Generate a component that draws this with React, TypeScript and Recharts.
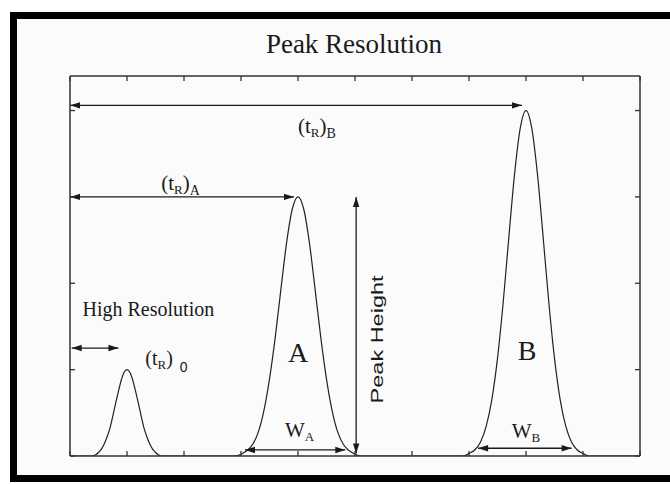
import { ComposedChart, Line, XAxis, YAxis, ReferenceLine, ReferenceDot } from 'recharts';

// detector trace: [time, signal]
const peakO = [
  [0.4, 0], [0.45, 0.015], [0.5, 0.04], [0.55, 0.08], [0.6, 0.14], [0.65, 0.22], [0.7, 0.32],
  [0.75, 0.46], [0.8, 0.61], [0.85, 0.75], [0.9, 0.88], [0.95, 0.97], [1.0, 1.0],
  [1.05, 0.97], [1.1, 0.88], [1.15, 0.75], [1.2, 0.61], [1.25, 0.46], [1.3, 0.32],
  [1.35, 0.22], [1.4, 0.14], [1.45, 0.08], [1.5, 0.04], [1.55, 0.015], [1.6, 0],
];
const peakA = [
  [2.9, 0], [3.0, 0.02], [3.1, 0.06], [3.2, 0.13], [3.3, 0.27], [3.4, 0.52], [3.5, 0.89],
  [3.6, 1.37], [3.7, 1.93], [3.8, 2.47], [3.9, 2.86], [4.0, 3.0], [4.1, 2.86], [4.2, 2.47],
  [4.3, 1.93], [4.4, 1.37], [4.5, 0.89], [4.6, 0.52], [4.7, 0.27], [4.8, 0.13], [4.9, 0.06],
  [5.0, 0.02], [5.1, 0],
];
const peakB = [
  [6.9, 0], [7.0, 0.03], [7.1, 0.07], [7.2, 0.16], [7.3, 0.34], [7.4, 0.65], [7.5, 1.13],
  [7.6, 1.78], [7.7, 2.54], [7.8, 3.27], [7.9, 3.8], [8.0, 4.0], [8.1, 3.8], [8.2, 3.27],
  [8.3, 2.54], [8.4, 1.78], [8.5, 1.13], [8.6, 0.65], [8.7, 0.34], [8.8, 0.16], [8.9, 0.07],
  [9.0, 0.03], [9.1, 0],
];
const xTicks = [0, 1, 2, 3, 4, 5, 6, 7, 8, 9, 10];
const yTicks = [0, 1, 2, 3, 4];

// double-headed dimension arrows, in data units
const arrows = [
  { id: 'tRB', from: [0, 4.06], to: [7.93, 4.06] },
  { id: 'tRA', from: [0, 3.0], to: [3.93, 3.0] },
  { id: 'tR0', from: [0.03, 1.25], to: [0.85, 1.25] },
  { id: 'height', from: [5.02, 0.03], to: [5.02, 3.0] },
  { id: 'wA', from: [3.07, 0.07], to: [4.83, 0.07] },
  { id: 'wB', from: [7.16, 0.09], to: [8.8, 0.09] },
];

// text labels
const labels = [
  { id: 'tRB', at: [4.0, 3.74], kind: 'tR', sub: 'B' },
  { id: 'tRA', at: [1.6, 3.08], kind: 'tR', sub: 'A' },
  { id: 'tR0', at: [1.32, 1.05], kind: 'tR0', sub: '0' },
  { id: 'hires', at: [0.22, 1.62], kind: 'plain', text: 'High Resolution' },
  { id: 'A', at: [4.0, 1.09], kind: 'big', text: 'A' },
  { id: 'B', at: [8.02, 1.11], kind: 'big', text: 'B' },
  { id: 'wA', at: [3.77, 0.22], kind: 'w', sub: 'A' },
  { id: 'wB', at: [7.75, 0.21], kind: 'w', sub: 'B' },
  { id: 'ph', at: [5.39, 1.35], kind: 'rot', text: 'Peak Height' },
];

const trace = [[0, 0], ...peakO, ...peakA, ...peakB, [10, 0]].map(([x, y]) => ({ x, y }));

const ink = '#1a1a1a';
const serif = '"Liberation Serif", "Times New Roman", serif';
const sans = '"Liberation Sans", Arial, sans-serif';

function head(x: number, y: number, ang: number) {
  const L = 10, W = 3.2;
  const bx = x - L * Math.cos(ang), by = y - L * Math.sin(ang);
  const nx = -Math.sin(ang), ny = Math.cos(ang);
  return `${x},${y} ${bx + W * nx},${by + W * ny} ${bx - W * nx},${by - W * ny}`;
}

const ArrowShape = (p: any) => {
  const { x1, y1, x2, y2 } = p;
  const ang = Math.atan2(y2 - y1, x2 - x1);
  return (
    <g>
      <line x1={x1} y1={y1} x2={x2} y2={y2} stroke={ink} strokeWidth={1.3} />
      <polygon points={head(x2, y2, ang)} fill={ink} />
      <polygon points={head(x1, y1, ang + Math.PI)} fill={ink} />
    </g>
  );
};

const makeLabel = (l: any) => (p: any) => {
  const { cx, cy } = p;
  if (l.kind === 'tR') {
    return (
      <text x={cx} y={cy} fontFamily={serif} fontSize={21} fill={ink}>
        (t<tspan fontSize={13} dy={4}>R</tspan><tspan dy={-4}>)</tspan>
        <tspan fontSize={14} dy={5}>{l.sub}</tspan>
      </text>
    );
  }
  if (l.kind === 'tR0') {
    return (
      <text x={cx} y={cy} fontFamily={serif} fontSize={20} fill={ink}>
        (t<tspan fontSize={13} dy={4}>R</tspan><tspan dy={-4}>)</tspan>
        <tspan fontSize={14} dx={7} dy={7} fontFamily={sans}>{l.sub}</tspan>
      </text>
    );
  }
  if (l.kind === 'w') {
    return (
      <text x={cx} y={cy} fontFamily={serif} fontSize={21} fill={ink}>
        W<tspan fontSize={13} dy={4}>{l.sub}</tspan>
      </text>
    );
  }
  if (l.kind === 'big') {
    return (
      <text x={cx} y={cy} fontFamily={serif} fontSize={28} fill={ink} textAnchor="middle">
        {l.text}
      </text>
    );
  }
  if (l.kind === 'rot') {
    return (
      <text
        x={cx}
        y={cy}
        transform={`rotate(-90 ${cx} ${cy})`}
        textAnchor="middle"
        dominantBaseline="central"
        fontFamily={sans}
        fontSize={17}
        textLength={128}
        lengthAdjust="spacingAndGlyphs"
        fill={ink}
      >
        {l.text}
      </text>
    );
  }
  return (
    <text x={cx} y={cy} fontFamily={serif} fontSize={20} fill={ink}>
      {l.text}
    </text>
  );
};

const axisLine = { stroke: '#333', strokeWidth: 1.5 };
const tickLine = { stroke: '#333', strokeWidth: 1.3 };
const noLabel = () => '';

export default function App() {
  return (
    <div style={{ position: 'absolute', left: 0, top: 0, width: 670, height: 484, overflow: 'hidden', background: '#fff' }}>
      <div
        style={{
          position: 'absolute', left: 10, top: 12, width: 700, height: 470,
          border: '7px solid #000', boxSizing: 'border-box', background: '#fbfbfb',
        }}
      />
      <div
        style={{
          position: 'absolute', left: 0, width: 708, top: 29, textAlign: 'center',
          fontFamily: serif, fontSize: 27, lineHeight: '30px', color: ink,
        }}
      >
        Peak Resolution
      </div>
      <div style={{ position: 'absolute', left: 0, top: 0 }}>
        <ComposedChart width={670} height={484} data={trace} margin={{ top: 76, right: 30, bottom: 28, left: 70 }}>
          <XAxis xAxisId="b" dataKey="x" type="number" domain={[0, 10]} ticks={xTicks} orientation="bottom" mirror
            axisLine={axisLine} tickLine={tickLine} tickSize={5} tickFormatter={noLabel} allowDataOverflow />
          <XAxis xAxisId="t" dataKey="x" type="number" domain={[0, 10]} ticks={xTicks} orientation="top" mirror
            axisLine={axisLine} tickLine={tickLine} tickSize={5} tickFormatter={noLabel} allowDataOverflow />
          <YAxis yAxisId="l" type="number" domain={[0, 4.4]} ticks={yTicks} orientation="left" mirror
            axisLine={axisLine} tickLine={tickLine} tickSize={5} tickFormatter={noLabel} allowDataOverflow />
          <YAxis yAxisId="r" type="number" domain={[0, 4.4]} ticks={yTicks} orientation="right" mirror
            axisLine={axisLine} tickLine={tickLine} tickSize={5} tickFormatter={noLabel} allowDataOverflow />
          <Line xAxisId="b" yAxisId="l" dataKey="y" type="monotone" stroke="#222" strokeWidth={1.2}
            dot={false} activeDot={false} isAnimationActive={false} />
          {arrows.map((a) => (
            <ReferenceLine key={a.id} xAxisId="b" yAxisId="l" ifOverflow="visible"
              segment={[{ x: a.from[0], y: a.from[1] }, { x: a.to[0], y: a.to[1] }]}
              shape={ArrowShape} />
          ))}
          {labels.map((l) => (
            <ReferenceDot key={l.id} xAxisId="b" yAxisId="l" x={l.at[0]} y={l.at[1]} ifOverflow="visible"
              shape={makeLabel(l)} />
          ))}
        </ComposedChart>
      </div>
    </div>
  );
}
